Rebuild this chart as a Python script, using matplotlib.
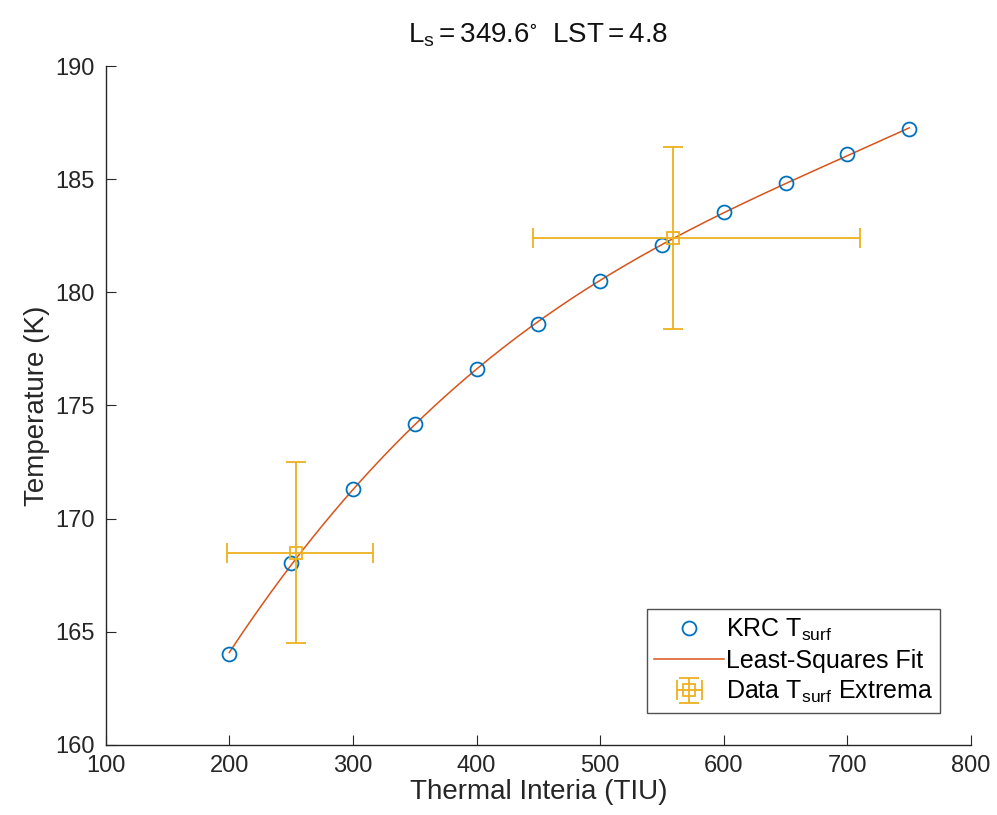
import numpy as np
import matplotlib
matplotlib.use('Agg')
import matplotlib.pyplot as plt

plt.rcParams['font.family'] = ['Liberation Sans', 'DejaVu Sans']
plt.rcParams['mathtext.fontset'] = 'custom'
plt.rcParams['mathtext.rm'] = 'Liberation Sans'
plt.rcParams['mathtext.it'] = 'Liberation Sans'

# KRC model surface temperatures vs thermal inertia
ti = np.array([200, 250, 300, 350, 400, 450, 500, 550, 600, 650, 700, 750])
tsurf = np.array([164.0, 168.05, 171.3, 174.2, 176.6, 178.6, 180.5, 182.1, 183.55, 184.85, 186.1, 187.2])

# observed extrema with (asymmetric) uncertainties
data_ti = np.array([254, 559])
data_t = np.array([168.5, 182.4])
data_ti_lo = np.array([56, 113])
data_ti_hi = np.array([62, 151])
data_t_err = np.array([4.0, 4.0])

blue = '#0072BD'
orange = '#D95319'
yellow = '#EDB120'

# least-squares fit through the model points
coef = np.polyfit(ti, tsurf, 3)
xf = np.linspace(ti.min(), ti.max(), 200)
yf = np.polyval(coef, xf)

fig = plt.figure(figsize=(9.97, 8.15), dpi=100)
ax = fig.add_axes([0.106, 0.086, 0.868, 0.833])

ax.plot(ti, tsurf, 'o', mfc='none', mec=blue, ms=10, mew=1.3, label=r'KRC T$_{\mathregular{surf}}$', zorder=3)
ax.plot(xf, yf, '-', color=orange, lw=1.1, label='Least-Squares Fit', zorder=2)
ax.errorbar(data_ti, data_t, xerr=[data_ti_lo, data_ti_hi], yerr=data_t_err, fmt='s', mfc='none',
            mec=yellow, ms=8.5, mew=1.3, ecolor=yellow, elinewidth=1.3, capsize=7, capthick=1.3,
            label=r'Data T$_{\mathregular{surf}}$ Extrema', zorder=4)

ax.set_xlim(100, 800)
ax.set_ylim(160, 190)
ax.set_xticks(np.arange(100, 801, 100))
ax.set_yticks(np.arange(160, 191, 5))
ax.spines['top'].set_visible(False)
ax.spines['right'].set_visible(False)
for s in ['left', 'bottom']:
    ax.spines[s].set_color('#262626')
    ax.spines[s].set_linewidth(1.0)
ax.tick_params(direction='in', length=7, labelsize=17, colors='#262626')
ax.tick_params(axis='x', pad=7)
ax.tick_params(axis='y', pad=8)

ax.set_xlabel('Thermal Interia (TIU)', fontsize=20, color='#262626', labelpad=2)
ax.set_ylabel('Temperature (K)', fontsize=20, color='#262626', labelpad=4)
ax.set_title(r'$\mathregular{L_s = 349.6^{\circ}\ \ LST = 4.8}$', fontsize=20, color='#111111', pad=17)

leg = ax.legend(loc='lower right', bbox_to_anchor=(0.97, 0.04), fontsize=18, frameon=True,
                fancybox=False, edgecolor='#262626', handlelength=2.8, borderpad=0.3,
                labelspacing=0.25, handletextpad=0.05, borderaxespad=0.2)
leg.get_frame().set_linewidth(1.0)

fig.savefig('out.png', dpi=100)
